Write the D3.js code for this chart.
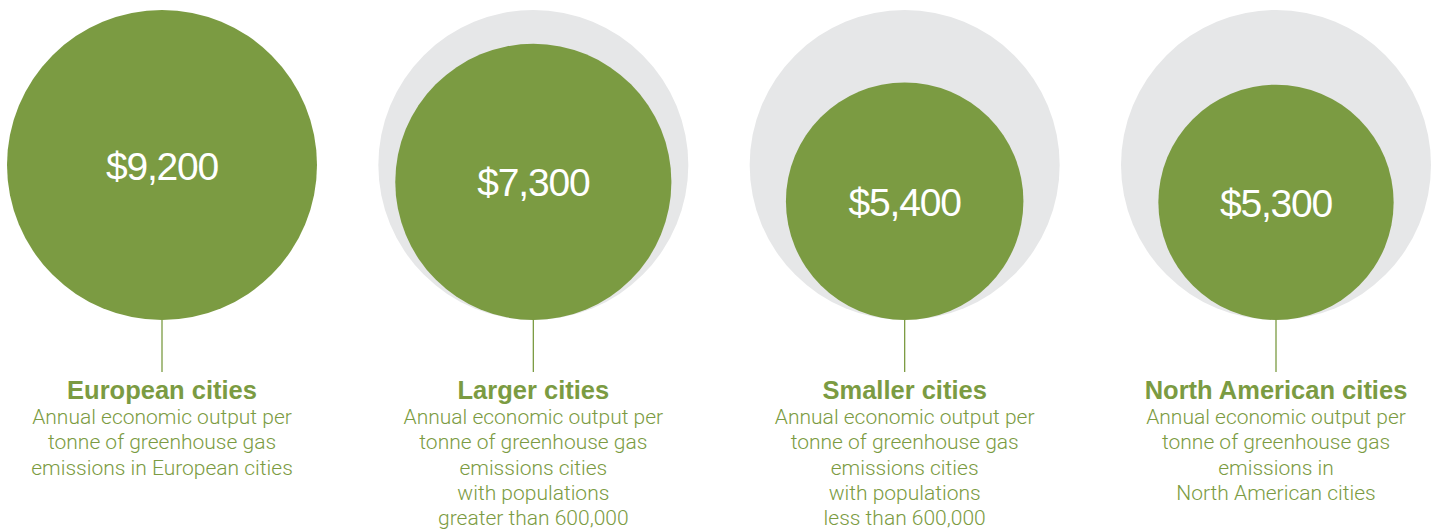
<!DOCTYPE html>
<html><head><meta charset="utf-8">
<script src="https://cdn.jsdelivr.net/npm/d3@7"></script>
<style>body{margin:0;background:#fff}svg{display:block}</style>
</head><body>
<svg id="c" width="1435" height="531"></svg>
<script>
const categories = ["European cities", "Larger cities", "Smaller cities", "North American cities"];
const values = [9200, 7300, 5400, 5300];
const valueLabels = ["$9,200", "$7,300", "$5,400", "$5,300"];
const referenceValue = 9200;
const descriptions = [
  ["Annual economic output per", "tonne of greenhouse gas", "emissions in European cities"],
  ["Annual economic output per", "tonne of greenhouse gas", "emissions cities", "with populations", "greater than 600,000"],
  ["Annual economic output per", "tonne of greenhouse gas", "emissions cities", "with populations", "less than 600,000"],
  ["Annual economic output per", "tonne of greenhouse gas", "emissions in", "North American cities"]
];

const green = "#7b9b42", gray = "#e6e7e8";
const svg = d3.select("#c");
const x = d3.scalePoint().domain(categories).range([162, 1276]);
const r = d3.scaleSqrt().domain([0, referenceValue]).range([0, 155]);
const baseY = 320;

const data = categories.map((c, i) => ({c, v: values[i], label: valueLabels[i], desc: descriptions[i], i}));
const g = svg.selectAll("g.grp").data(data).join("g").attr("class", "grp")
  .attr("transform", d => `translate(${x(d.c)},0)`);

g.filter(d => d.i > 0).append("circle")
  .attr("cx", 0).attr("cy", baseY - r(referenceValue)).attr("r", r(referenceValue)).attr("fill", gray);
g.append("circle")
  .attr("cx", 0).attr("cy", d => baseY - r(d.v)).attr("r", d => r(d.v)).attr("fill", green);
g.append("text")
  .attr("x", 0).attr("y", d => baseY - r(d.v) + 14.5)
  .attr("text-anchor", "middle").attr("fill", "#fff")
  .style("font-family", "Liberation Sans, Arial, sans-serif").style("font-size", "39px")
  .style("letter-spacing", "-1.2px")
  .text(d => d.label);
g.append("line").attr("x1", 0).attr("x2", 0).attr("y1", baseY).attr("y2", 372)
  .attr("stroke", green).attr("stroke-width", 1.3);
g.append("text").attr("x", 0).attr("y", 399).attr("text-anchor", "middle").attr("fill", green)
  .style("font-family", "Liberation Sans, Arial, sans-serif").style("font-size", "25.5px").style("font-weight", "bold")
  .text(d => d.c);
g.each(function(d) {
  d3.select(this).selectAll("text.desc").data(d.desc).join("text").attr("class", "desc")
    .attr("x", 0).attr("y", (t, j) => 424 + j * 25.3).attr("text-anchor", "middle").attr("fill", green)
    .style("font-family", "Roboto, sans-serif").style("font-weight", "300").style("font-size", "21px")
    .text(t => t);
});
</script>
</body></html>
